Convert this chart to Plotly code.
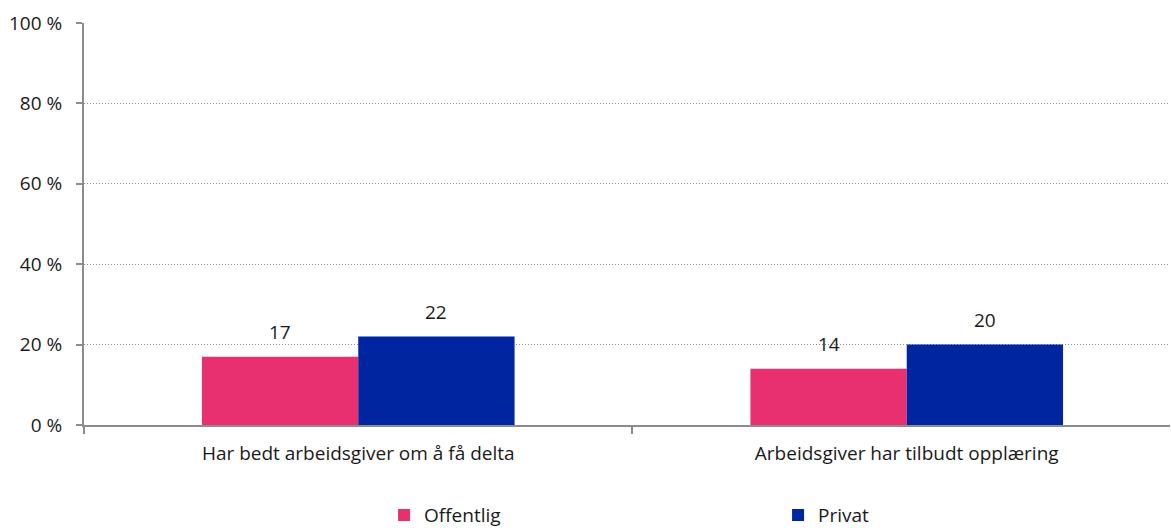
import plotly.graph_objects as go

categories = ["Har bedt arbeidsgiver om å få delta", "Arbeidsgiver har tilbudt opplæring"]
offentlig = [17, 14]
privat = [22, 20]
y_ticks = [0, 20, 40, 60, 80, 100]
y_tick_labels = ["0 %", "20 %", "40 %", "60 %", "80 %", "100 %"]

PINK = "#E83070"
BLUE = "#0025A0"
FONT = "'Open Sans', sans-serif"
TXT = "#1a1a1a"
FS = 19

fig = go.Figure()
fig.add_trace(go.Bar(name="Offentlig", x=categories, y=offentlig, marker_color=PINK,
                     marker_line_width=0, offsetgroup=0))
fig.add_trace(go.Bar(name="Privat", x=categories, y=privat, marker_color=BLUE,
                     marker_line_width=0, offsetgroup=1))

# value labels above each bar
for i, cat in enumerate(categories):
    for vals, shift in ((offentlig, -0.285 / 2), (privat, 0.285 / 2)):
        fig.add_annotation(x=i + shift, y=vals[i], xref="x", yref="y",
                           text=str(vals[i]), showarrow=False, yshift=25,
                           font=dict(family=FONT, size=FS, color=TXT))

fig.update_layout(
    width=1171, height=528,
    margin=dict(l=84, r=1, t=23, b=103, autoexpand=False),
    paper_bgcolor="white", plot_bgcolor="white",
    barmode="group", bargap=0.43, bargroupgap=0,
    font=dict(family=FONT, size=FS, color=TXT),
    showlegend=True,
    legend=dict(orientation="h", x=0.2763, xanchor="left", y=-0.177, yanchor="top",
                entrywidth=349, entrywidthmode="pixels", itemwidth=30,
                font=dict(family=FONT, size=FS, color=TXT)),
)
fig.update_xaxes(
    type="category", range=[-0.5, 1.48],
    showline=True, linecolor="#8c8c8c", linewidth=2,
    ticks="outside", tickson="boundaries", ticklen=7, tickcolor="#8c8c8c", tickwidth=2,
    ticklabelstandoff=10,
    showgrid=False, tickfont=dict(family=FONT, size=FS, color=TXT),
)
fig.update_yaxes(
    range=[0, 100], tickvals=y_ticks, ticktext=y_tick_labels,
    showline=True, linecolor="#8c8c8c", linewidth=2,
    ticks="outside", ticklen=6, tickcolor="#8c8c8c", tickwidth=2,
    ticklabelstandoff=10,
    showgrid=True, gridcolor="#8c8c8c", griddash="1px,2px", gridwidth=1,
    zeroline=False, tickfont=dict(family=FONT, size=FS, color=TXT),
)

fig.write_html("out.html")
